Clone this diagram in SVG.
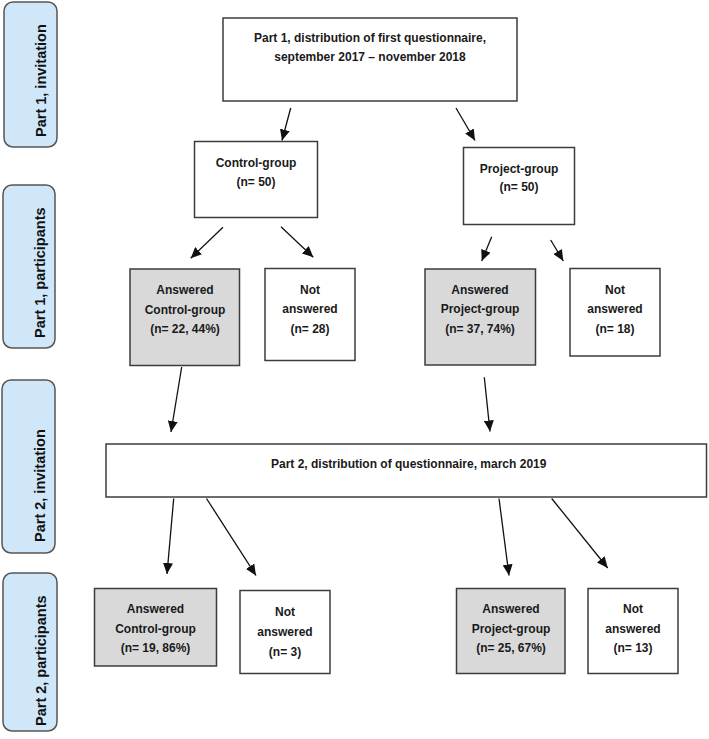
<svg xmlns="http://www.w3.org/2000/svg" width="709" height="739" viewBox="0 0 709 739">
<style>
.lab{fill:#cfe7f8;stroke:#555;stroke-width:1.5}
.lt{font-family:"Liberation Sans",Arial,sans-serif;font-weight:bold;font-size:14.5px;fill:#111}
.box{fill:#fff;stroke:#3c3c3c;stroke-width:1.5}
.gray{fill:#d9d9d9;stroke:#3c3c3c;stroke-width:1.5}
.t{font-family:"Liberation Sans",Arial,sans-serif;font-weight:bold;font-size:12px;fill:#1a1a1a;text-anchor:middle}
.c line{stroke:#111;stroke-width:1.3;marker-end:url(#ah)}
</style>
<defs>
<marker id="ah" markerUnits="userSpaceOnUse" markerWidth="11" markerHeight="10" refX="11" refY="5" orient="auto">
<path d="M0,0 L11,5 L0,10 z" fill="#111"/>
</marker>
</defs>
<rect width="709" height="739" fill="#fff"/>

<g id="label-p1-invitation"><rect class="lab" x="4" y="2" width="53" height="145" rx="9"/><text class="lt" transform="translate(46,137) rotate(-90)">Part 1, invitation</text></g>
<g id="label-p1-participants"><rect class="lab" x="3" y="185" width="52" height="163" rx="9"/><text class="lt" transform="translate(45,338) rotate(-90)">Part 1, participants</text></g>
<g id="label-p2-invitation"><rect class="lab" x="2" y="380" width="53" height="173" rx="9"/><text class="lt" transform="translate(45,542) rotate(-90)">Part 2, invitation</text></g>
<g id="label-p2-participants"><rect class="lab" x="3" y="573" width="54" height="158" rx="9"/><text class="lt" transform="translate(46,726) rotate(-90)">Part 2, participants</text></g>

<g id="part1"><rect class="box" x="223" y="18" width="294" height="83"/><text class="t" x="370" y="42">Part 1, distribution of first questionnaire,</text><text class="t" x="370" y="60.5">september 2017 – november 2018</text></g>

<g id="control"><rect class="box" x="194.5" y="141.5" width="123" height="76"/><text class="t" x="256" y="166.5">Control-group</text><text class="t" x="256" y="185.5">(n= 50)</text></g>
<g id="project"><rect class="box" x="463.5" y="147.5" width="111" height="77"/><text class="t" x="519" y="173">Project-group</text><text class="t" x="519" y="191">(n= 50)</text></g>

<g id="ans-control-1"><rect class="gray" x="130" y="269" width="109.5" height="96.5"/><text class="t" x="185" y="294">Answered</text><text class="t" x="185" y="313.5">Control-group</text><text class="t" x="185" y="333">(n= 22, 44%)</text></g>
<g id="not-control-1"><rect class="box" x="265" y="268.5" width="90" height="92"/><text class="t" x="310" y="293.5">Not</text><text class="t" x="310" y="312.5">answered</text><text class="t" x="310" y="332.5">(n= 28)</text></g>
<g id="ans-project-1"><rect class="gray" x="425" y="269" width="110.5" height="96"/><text class="t" x="480" y="293.5">Answered</text><text class="t" x="480" y="313">Project-group</text><text class="t" x="480" y="332.5">(n= 37, 74%)</text></g>
<g id="not-project-1"><rect class="box" x="570" y="268.5" width="90" height="87.5"/><text class="t" x="615" y="293.5">Not</text><text class="t" x="615" y="313">answered</text><text class="t" x="615" y="332.5">(n= 18)</text></g>

<g id="part2"><rect class="box" x="106" y="444" width="600.5" height="53"/><text class="t" x="271" y="467.5" style="text-anchor:start">Part 2, distribution of questionnaire, march 2019</text></g>

<g id="ans-control-2"><rect class="gray" x="94.5" y="588.5" width="122" height="77.5"/><text class="t" x="155.5" y="612.5">Answered</text><text class="t" x="155.5" y="632.5">Control-group</text><text class="t" x="155.5" y="651.5">(n= 19, 86%)</text></g>
<g id="not-control-2"><rect class="box" x="240" y="590.5" width="90" height="83"/><text class="t" x="285" y="616">Not</text><text class="t" x="285" y="636">answered</text><text class="t" x="285" y="655.5">(n= 3)</text></g>
<g id="ans-project-2"><rect class="gray" x="456.5" y="588.5" width="108.5" height="85"/><text class="t" x="511" y="612.5">Answered</text><text class="t" x="511" y="632.5">Project-group</text><text class="t" x="511" y="651.5">(n= 25, 67%)</text></g>
<g id="not-project-2"><rect class="box" x="588" y="588.5" width="90" height="85"/><text class="t" x="633" y="612.5">Not</text><text class="t" x="633" y="632.5">answered</text><text class="t" x="633" y="652">(n= 13)</text></g>

<g id="connectors" class="c">
<line x1="290.7" y1="108" x2="282" y2="140.5"/>
<line x1="456" y1="108" x2="475" y2="140.5"/>
<line x1="223" y1="227.3" x2="190.7" y2="258.3"/>
<line x1="281" y1="226.7" x2="313.3" y2="257.3"/>
<line x1="491.7" y1="236.7" x2="481.7" y2="261"/>
<line x1="550.7" y1="240" x2="563.3" y2="261"/>
<line x1="181.7" y1="367" x2="171" y2="432"/>
<line x1="484.3" y1="377.3" x2="490" y2="431.5"/>
<line x1="173.7" y1="498.5" x2="167" y2="574"/>
<line x1="206.5" y1="498.5" x2="256" y2="575.5"/>
<line x1="499" y1="498.5" x2="509" y2="575.5"/>
<line x1="551.7" y1="498.5" x2="607.7" y2="568"/>
</g>
</svg>
